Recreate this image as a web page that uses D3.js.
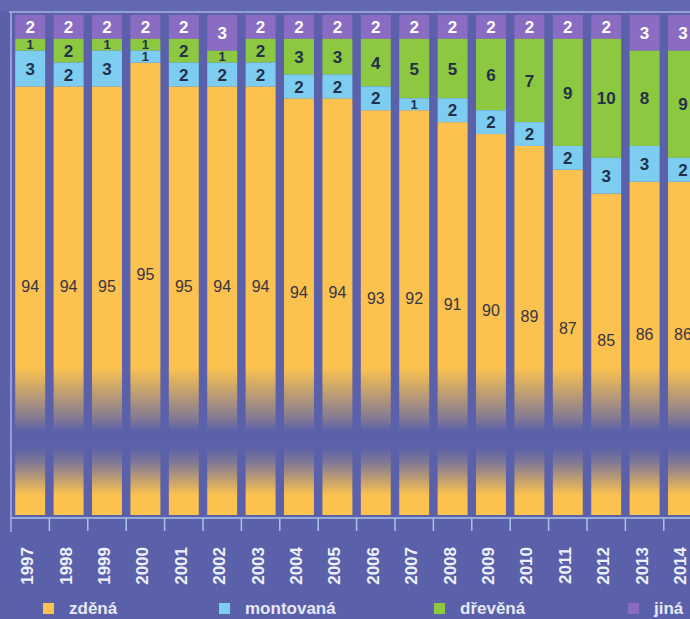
<!DOCTYPE html>
<html>
<head>
<meta charset="utf-8">
<script src="https://cdn.jsdelivr.net/npm/d3@7"></script>
<style>
  html, body { margin: 0; padding: 0; background: #5a61aa; }
  svg { display: block; }
</style>
</head>
<body>
<svg id="chart" width="690" height="619"></svg>
<script>
const years = ["1997","1998","1999","2000","2001","2002","2003","2004","2005","2006","2007","2008","2009","2010","2011","2012","2013","2014"];
const zdena     = [94,94,95,95,95,94,94,94,94,93,92,91,90,89,87,85,86,86];
const montovana = [3,2,3,1,2,2,2,2,2,2,1,2,2,2,2,3,3,2];
const drevena   = [1,2,1,1,2,1,2,3,3,4,5,5,6,7,9,10,8,9];
const jina      = [2,2,2,2,2,3,2,2,2,2,2,2,2,2,2,2,3,3];
const seriesNames = ["zděná","montovaná","dřevěná","jiná"];

const colors = { zdena: "#fbc250", montovana: "#7ccdf0", drevena: "#8cc840", jina: "#8a6cc2" };
const bg = "#5a61aa";

const svg = d3.select("#chart");
const W = 690, H = 619;

// background
svg.append("rect").attr("width", W).attr("height", H).attr("fill", bg);
svg.append("rect").attr("width", W).attr("height", 11).attr("fill", "#6368b2");

const x = d3.scaleBand().domain(years).range([11, 11 + 18 * 38.4]).paddingInner(0.22).paddingOuter(0.11);
// broken value axis: only the top part of the scale is shown
const y = d3.scaleLinear().domain([58, 100]).range([515, 15]);
const yBottom = 515;

// stack from top (100) downward
const rows = years.map((yr, i) => {
  const j0 = 100, j1 = j0 - jina[i];
  const d1 = j1 - drevena[i];
  const m1 = d1 - montovana[i];
  return { year: yr, i,
    segs: [
      { key: "jina", v: jina[i], top: j0, bot: j1, txt: "#ffffff" },
      { key: "drevena", v: drevena[i], top: j1, bot: d1, txt: "#223049" },
      { key: "montovana", v: montovana[i], top: d1, bot: m1, txt: "#223049" }
    ],
    orangeTop: m1
  };
});

const g = svg.append("g");
const bars = g.selectAll("g.bar").data(rows).join("g").attr("class", "bar");

// orange (zděná) part, down to the bottom of the plot
bars.append("rect")
  .attr("x", d => x(d.year)).attr("width", x.bandwidth())
  .attr("y", d => y(d.orangeTop)).attr("height", d => yBottom - y(d.orangeTop))
  .attr("fill", colors.zdena);

bars.selectAll("rect.seg").data(d => d.segs.map(s => Object.assign({ year: d.year }, s)))
  .join("rect").attr("class", "seg")
  .attr("x", s => x(s.year)).attr("width", x.bandwidth())
  .attr("y", s => y(s.top)).attr("height", s => y(s.bot) - y(s.top))
  .attr("fill", s => colors[s.key]);

// axis break (faded band)
const defs = svg.append("defs");
const grad = defs.append("linearGradient").attr("id", "brk").attr("x1", 0).attr("x2", 0).attr("y1", 0).attr("y2", 1);
[[0, 0], [0.4, 0.75], [0.5, 1], [0.62, 1], [0.75, 0.75], [1, 0]].forEach(([o, a]) =>
  grad.append("stop").attr("offset", o).attr("stop-color", bg).attr("stop-opacity", a));
svg.append("rect").attr("x", 11).attr("y", 368).attr("width", W).attr("height", 127).attr("fill", "url(#brk)");

// segment labels
const labelFont = "'Liberation Sans Narrow', 'Liberation Sans', Arial, sans-serif";
const lbl = svg.append("g").attr("font-family", labelFont).attr("text-anchor", "middle");
rows.forEach(r => {
  r.segs.forEach(s => {
    lbl.append("text")
      .attr("x", x(r.year) + x.bandwidth() / 2)
      .attr("y", (y(s.top) + y(s.bot)) / 2)
      .attr("dy", "0.36em")
      .attr("font-size", s.v === 1 ? 13 : 17).attr("font-weight", "bold")
      .attr("fill", s.txt).text(s.v);
  });
  lbl.append("text")
    .attr("x", x(r.year) + x.bandwidth() / 2)
    .attr("y", (y(r.orangeTop) + y(60.4)) / 2)
    .attr("dy", "0.36em")
    .attr("font-size", 16)
    .attr("fill", "#3a3440").text(zdena[r.i]);
});

// frame lines
svg.append("line").attr("x1", 9).attr("x2", W).attr("y1", 12).attr("y2", 12).attr("stroke", "#aab3e0").attr("stroke-width", 1.5);
svg.append("line").attr("x1", 11).attr("x2", 11).attr("y1", 12).attr("y2", 532).attr("stroke", "#aab3e0").attr("stroke-width", 1.5);

// x axis
const axis = svg.append("g").attr("transform", `translate(0,${518})`)
  .call(d3.axisBottom(x).tickSize(0).tickFormat(""));
axis.select(".domain").attr("stroke", "#aac4e6").attr("stroke-width", 1.5).attr("d", `M11,0H${W}`);
const tickPos = years.map(yr => x(yr) + x.bandwidth() + x.step() * 0.11);
svg.append("g").selectAll("line").data(tickPos).join("line")
  .attr("x1", d => d).attr("x2", d => d).attr("y1", 518).attr("y2", 531)
  .attr("stroke", "#aac4e6").attr("stroke-width", 1.5);

// year labels
svg.append("g").selectAll("text").data(years).join("text")
  .attr("transform", d => `translate(${x(d) + x.bandwidth() / 2 + 3},547) rotate(-90)`)
  .attr("text-anchor", "end")
  .attr("font-family", labelFont).attr("font-size", 17).attr("font-weight", "bold")
  .attr("fill", "#eef0f8").text(d => d);

// legend
const legendX = [43, 219, 434, 628];
const keys = ["zdena", "montovana", "drevena", "jina"];
const lg = svg.append("g");
keys.forEach((k, i) => {
  lg.append("rect").attr("x", legendX[i]).attr("y", 603).attr("width", 11).attr("height", 11).attr("fill", colors[k]);
  lg.append("text").attr("x", legendX[i] + 26).attr("y", 614)
    .attr("font-family", labelFont).attr("font-size", 17).attr("font-weight", "bold")
    .attr("fill", "#e6e8f4").text(seriesNames[i]);
});
</script>
</body>
</html>
